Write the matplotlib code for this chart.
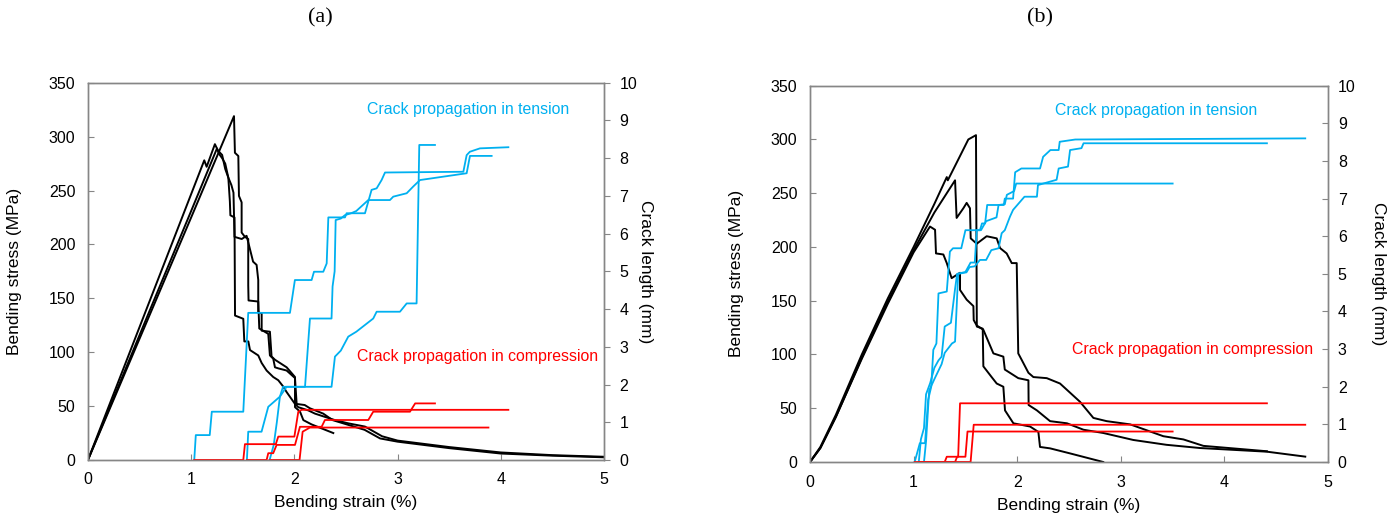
import matplotlib
matplotlib.use('Agg')
import matplotlib.pyplot as plt

plt.rcParams['font.family'] = ['Liberation Sans', 'DejaVu Sans']

# ---------------- panel (a) ----------------
# bending stress curves (strain %, MPa)
a_k1_x = [0, 0.6, 1.0, 1.415, 1.424, 1.457, 1.463, 1.489, 1.489, 1.521, 1.553, 1.553, 1.556, 1.65, 1.66,
          1.747, 1.763, 1.795, 1.812, 1.844, 1.925, 2.006, 2.022, 2.10, 2.15, 2.28, 2.37, 2.68, 2.83,
          3.0, 3.5, 4.0, 4.5, 5.0]
a_k1_y = [0, 135, 225, 319, 285, 282, 245, 239, 211, 207, 205, 162, 148, 147, 122,
          117, 97, 94, 86, 85, 83, 76, 52, 51, 48, 43, 37, 28, 20,
          17, 11, 6, 4, 2.5]
a_k2_x = [0, 0.6, 1.127, 1.15, 1.23, 1.26, 1.30, 1.33, 1.36, 1.375, 1.38, 1.42, 1.425, 1.505, 1.515,
          1.554, 1.57, 1.65, 1.683, 1.731, 1.795, 1.844, 1.893, 1.925, 2.006, 2.038, 2.135, 2.2, 2.296,
          2.393, 2.523, 2.684, 2.85, 3.0, 3.5, 4.0, 4.5, 5.0]
a_k2_y = [0, 148, 278, 272, 293, 287, 283, 270, 262, 240, 227, 225, 134, 131, 110,
          110, 102, 97, 90, 83, 77, 74, 68, 63, 52, 49, 46, 43, 40,
          37, 34, 31, 22, 18, 12, 7, 4.5, 3]
a_k3_x = [0, 0.6, 1.0, 1.25, 1.27, 1.30, 1.33, 1.36, 1.39, 1.41, 1.42, 1.49, 1.537, 1.553, 1.60, 1.634,
          1.65, 1.65, 1.683, 1.683, 1.763, 1.779, 1.812, 1.925, 2.006, 2.006, 2.054, 2.087, 2.167, 2.377]
a_k3_y = [0, 139, 231, 289, 284, 280, 275, 262, 255, 248, 207, 205, 208, 202, 184, 181,
          167, 137, 136, 120, 119, 96, 93, 86, 77, 49, 45, 37, 33, 25]

# crack length in tension (strain %, mm)
a_b1_x = [1.03, 1.045, 1.18, 1.20, 1.505, 1.553, 1.957, 2.005, 2.167, 2.19, 2.28, 2.313, 2.329, 2.49, 2.506,
          2.684, 2.716, 2.748, 2.797, 2.845, 2.878, 3.637, 3.669, 3.70, 3.798, 4.073]
a_b1_y = [0, 0.66, 0.66, 1.28, 1.28, 3.90, 3.90, 4.77, 4.77, 4.99, 4.99, 5.21, 6.43, 6.43, 6.54,
          6.54, 6.85, 7.16, 7.20, 7.42, 7.62, 7.64, 8.08, 8.17, 8.26, 8.29]
a_b2_x = [1.54, 1.553, 1.682, 1.747, 1.86, 1.924, 2.103, 2.151, 2.36, 2.37, 2.39, 2.40, 2.45, 2.49, 2.55,
          2.60, 2.716, 2.926, 2.958, 3.088, 3.152, 3.217, 3.669, 3.701, 3.911]
a_b2_y = [0, 0.75, 0.75, 1.41, 1.68, 1.94, 1.94, 3.75, 3.75, 4.6, 5.0, 6.36, 6.40, 6.49, 6.54,
          6.6, 6.89, 6.89, 6.98, 7.07, 7.25, 7.42, 7.60, 8.06, 8.06]
a_b3_x = [1.76, 1.80, 1.83, 1.86, 1.89, 2.36, 2.393, 2.45, 2.522, 2.60, 2.764, 2.797, 3.023, 3.088, 3.184,
          3.21, 3.362]
a_b3_y = [0, 0.4, 1.0, 1.68, 1.94, 1.94, 2.74, 2.9, 3.27, 3.4, 3.75, 3.93, 3.93, 4.15, 4.15,
          8.35, 8.35]

# crack length in compression
a_r1_x = [1.03, 1.505, 1.521, 1.82, 1.844, 2.0, 2.038, 2.07, 4.073]
a_r1_y = [0, 0, 0.42, 0.42, 0.62, 0.62, 1.28, 1.33, 1.33]
a_r2_x = [1.54, 1.731, 1.747, 1.795, 1.828, 2.006, 2.054, 2.264, 2.296, 2.716, 2.764, 3.12, 3.17, 3.362]
a_r2_y = [0, 0, 0.18, 0.18, 0.40, 0.40, 0.88, 0.88, 1.06, 1.06, 1.28, 1.28, 1.50, 1.50]
a_r3_x = [1.76, 2.05, 2.08, 2.15, 3.88]
a_r3_y = [0, 0, 0.75, 0.86, 0.86]

# ---------------- panel (b) ----------------
b_k1_x = [0, 0.1, 0.25, 0.5, 0.75, 1.0, 1.2, 1.32, 1.33, 1.45, 1.528, 1.602, 1.61, 1.667, 1.673, 1.753,
          1.802, 1.866, 1.882, 1.963, 2.124, 2.204, 2.22, 2.317, 2.51, 2.83]
b_k1_y = [0, 14, 44, 100, 152, 200, 240, 265, 262, 285, 300, 304, 126, 124, 89, 79,
          73, 70, 48, 36, 33, 28, 14, 12.7, 8, 0]
b_k2_x = [0, 0.1, 0.25, 0.5, 0.75, 1.0, 1.2, 1.40, 1.415, 1.48, 1.512, 1.544, 1.551, 1.609, 1.705, 1.802,
          1.834, 1.898, 1.947, 1.995, 2.01, 2.043, 2.108, 2.156, 2.285, 2.413, 2.606, 2.735, 2.863, 3.09,
          3.41, 3.604, 3.797, 4.41]
b_k2_y = [0, 13, 42, 97, 149, 197, 232, 262, 227, 236, 241, 236, 208, 203, 210, 208,
          199, 194, 185, 185, 101, 95, 83, 79, 78, 73, 56, 41, 38, 35,
          24, 21, 15, 10]
b_k3_x = [0, 0.1, 0.25, 0.5, 0.75, 1.0, 1.158, 1.207, 1.216, 1.287, 1.32, 1.367, 1.448, 1.448, 1.512,
          1.577, 1.58, 1.609, 1.673, 1.77, 1.866, 1.88, 2.01, 2.108, 2.11, 2.19, 2.317, 2.48, 2.64, 2.83,
          3.12, 3.44, 3.764, 4.41, 4.78]
b_k3_y = [0, 13, 42, 96, 147, 195, 219, 216, 194, 193, 185, 171, 176, 160, 151,
          145, 132, 127, 123, 101, 98, 86, 78, 76, 53, 48, 38, 36, 30, 27,
          20.5, 16, 13, 9.6, 5]

b_b1_x = [1.01, 1.06, 1.11, 1.14, 1.17, 1.19, 1.22, 1.24, 1.32, 1.35, 1.38, 1.46, 1.50, 1.64, 1.66, 1.69,
          1.71, 1.87, 1.88, 1.96, 1.98, 2.04, 2.22, 2.25, 2.32, 2.40, 2.41, 2.56, 4.78]
b_b1_y = [0, 0.5, 0.5, 1.65, 2.0, 2.98, 3.15, 4.48, 4.53, 5.59, 5.68, 5.68, 6.16, 6.16, 6.34, 6.34,
          6.83, 6.83, 7.0, 7.0, 7.7, 7.8, 7.8, 8.11, 8.29, 8.29, 8.51, 8.57, 8.6]
b_b2_x = [1.10, 1.12, 1.15, 1.20, 1.27, 1.30, 1.37, 1.40, 1.43, 1.51, 1.54, 1.59, 1.64, 1.70, 1.75, 1.82,
          1.85, 1.88, 1.93, 1.96, 2.07, 2.19, 2.20, 2.38, 2.40, 2.49, 2.51, 2.62, 2.64, 4.41]
b_b2_y = [0, 0.55, 1.9, 2.2, 2.6, 2.9, 3.15, 3.2, 5.0, 5.04, 5.18, 5.2, 5.37, 5.37, 5.63, 5.68,
          6.08, 6.16, 6.52, 6.7, 7.05, 7.05, 7.36, 7.5, 7.8, 7.85, 8.29, 8.34, 8.47, 8.47]
b_b3_x = [1.05, 1.07, 1.10, 1.12, 1.16, 1.20, 1.24, 1.27, 1.30, 1.36, 1.40, 1.42, 1.50, 1.55, 1.59, 1.61,
          1.65, 1.70, 1.80, 1.82, 1.88, 1.90, 1.97, 1.99, 3.50]
b_b3_y = [0, 0.6, 0.9, 1.8, 2.1, 2.5, 2.7, 2.8, 3.6, 3.7, 4.6, 5.0, 5.05, 5.3, 5.3, 6.16,
          6.16, 6.4, 6.5, 6.83, 6.85, 7.1, 7.2, 7.4, 7.4]

b_r1_x = [1.01, 1.30, 1.32, 1.43, 1.448, 4.41]
b_r1_y = [0, 0, 0.14, 0.14, 1.56, 1.56]
b_r2_x = [1.05, 1.40, 1.42, 1.50, 1.52, 3.50]
b_r2_y = [0, 0, 0.14, 0.14, 0.81, 0.81]
b_r3_x = [1.10, 1.55, 1.58, 4.78]
b_r3_y = [0, 0, 0.99, 0.99]

x_ticks = [0, 1, 2, 3, 4, 5]
stress_ticks = [0, 50, 100, 150, 200, 250, 300, 350]
crack_ticks = list(range(0, 11))

BLUE = '#00B0F0'
RED = '#FF0000'
GRAY = '#868686'


def setup(ax, ax2, right_dir):
    ax.set_xlim(0, 5)
    ax.set_ylim(0, 350)
    ax2.set_ylim(0, 10)
    ax.set_xticks(x_ticks)
    ax.set_yticks(stress_ticks)
    ax2.set_yticks(crack_ticks)
    for a in (ax, ax2):
        for s in a.spines.values():
            s.set_color(GRAY)
            s.set_linewidth(1.0)
    ax.tick_params(direction='in', length=4, color=GRAY, labelsize=11.5, pad=9)
    ax2.tick_params(direction=right_dir, length=4, color=GRAY, labelsize=11.5, pad=7)
    ax.set_xlabel('Bending strain (%)', fontsize=12.5)
    ax.set_ylabel('Bending stress (MPa)', fontsize=12.5)
    ax2.set_ylabel('Crack length (mm)', fontsize=12.5, rotation=270)


fig = plt.figure(figsize=(13.87, 5.15), dpi=100)

ax_a = fig.add_axes([0.0634, 0.1068, 0.3721, 0.7326])
ax_a2 = ax_a.twinx()
setup(ax_a, ax_a2, 'out')
for xs, ys in [(a_k1_x, a_k1_y), (a_k2_x, a_k2_y), (a_k3_x, a_k3_y)]:
    ax_a.plot(xs, ys, color='black', lw=1.4)
for xs, ys in [(a_b1_x, a_b1_y), (a_b2_x, a_b2_y), (a_b3_x, a_b3_y)]:
    ax_a2.plot(xs, ys, color=BLUE, lw=1.3)
for xs, ys in [(a_r1_x, a_r1_y), (a_r2_x, a_r2_y), (a_r3_x, a_r3_y)]:
    ax_a2.plot(xs, ys, color=RED, lw=1.3)
ax_a2.text(2.7, 9.28, 'Crack propagation in tension', color=BLUE, fontsize=11.4, va='center')
ax_a2.text(2.61, 2.73, 'Crack propagation in compression', color=RED, fontsize=11.4, va='center')
ax_a.yaxis.set_label_coords(-0.128, 0.5)
ax_a2.yaxis.set_label_coords(1.095, 0.5)
ax_a.xaxis.set_label_coords(0.5, -0.093)

ax_b = fig.add_axes([0.584, 0.1029, 0.3735, 0.7307])
ax_b2 = ax_b.twinx()
setup(ax_b, ax_b2, 'in')
for xs, ys in [(b_k1_x, b_k1_y), (b_k2_x, b_k2_y), (b_k3_x, b_k3_y)]:
    ax_b.plot(xs, ys, color='black', lw=1.4)
for xs, ys in [(b_b1_x, b_b1_y), (b_b2_x, b_b2_y), (b_b3_x, b_b3_y)]:
    ax_b2.plot(xs, ys, color=BLUE, lw=1.3)
for xs, ys in [(b_r1_x, b_r1_y), (b_r2_x, b_r2_y), (b_r3_x, b_r3_y)]:
    ax_b2.plot(xs, ys, color=RED, lw=1.3)
ax_b2.text(2.365, 9.33, 'Crack propagation in tension', color=BLUE, fontsize=11.4, va='center')
ax_b2.text(2.53, 2.98, 'Crack propagation in compression', color=RED, fontsize=11.4, va='center')
ax_b.yaxis.set_label_coords(-0.128, 0.5)
ax_b2.yaxis.set_label_coords(1.111, 0.5)
ax_b.xaxis.set_label_coords(0.5, -0.095)

fig.text(320 / 1387, 1 - 18 / 515, '(a)', family='Liberation Serif', fontsize=16, ha='center', va='center')
fig.text(1040 / 1387, 1 - 18 / 515, '(b)', family='Liberation Serif', fontsize=16, ha='center', va='center')

fig.savefig('out.png', dpi=100)
